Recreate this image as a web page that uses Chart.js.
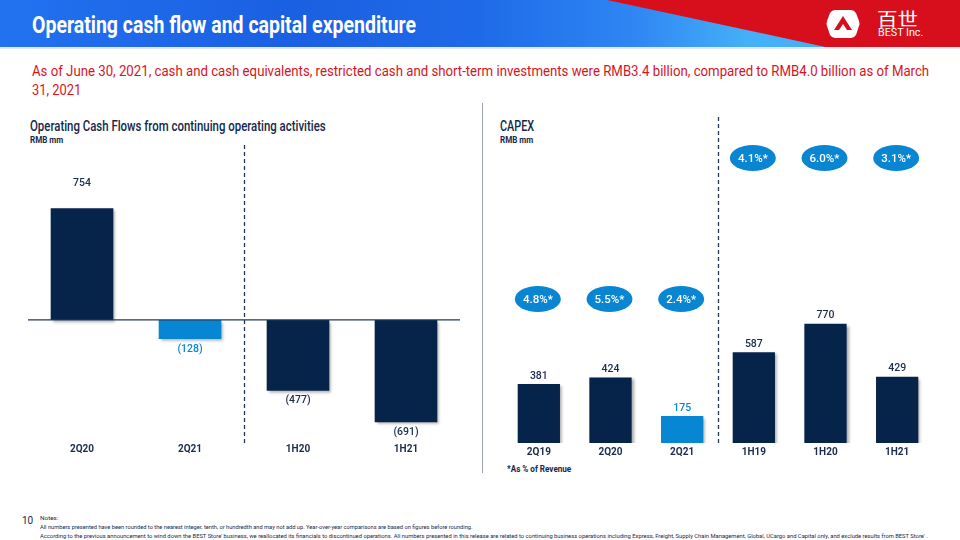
<!DOCTYPE html>
<html>
<head>
<meta charset="utf-8">
<script src="https://cdn.jsdelivr.net/npm/chart.js@4.4.0/dist/chart.umd.min.js"></script>
<style>
  body { margin: 0; width: 960px; height: 540px; position: relative; overflow: hidden; background: #fff;
         font-family: Roboto, "DejaVu Sans", sans-serif; color: #1b2c4c; }
  .abs { position: absolute; white-space: nowrap; transform-origin: 0 0; }
  #header { left: 0; top: 0; width: 960px; height: 47px;
            background: linear-gradient(90deg, #2272f0 0%, #1a60e2 30%, #1f6ae8 50%, #2f86f3 66%, #45b0f7 78%); }
  #headerLine { left: 0; top: 47px; width: 960px; height: 2px; background: #dfe9f7; }
  #red { left: 0; top: 0; width: 960px; height: 48px; background: #d70f1c;
         clip-path: polygon(607px 0, 960px 0, 960px 48px, 830px 48px); }
  #title { left: 32px; top: 11px; font-size: 24px; font-weight: bold; color: #fff; }
  #logoCn { left: 877px; top: 5px; font-size: 18px; color: #fff; font-family: "Noto Sans CJK SC", sans-serif; }
  #logoEn { left: 878px; top: 27px; font-size: 10px; color: #fff; }
  .sub { left: 32px; font-size: 14.5px; color: #d7141f; }
  .chartTitle { font-size: 14px; font-weight: 500; color: #15284a; }
  .unit { font-size: 9px; font-weight: bold; color: #15284a; }
  #sep { left: 482px; top: 103px; width: 1px; height: 370px; background: #9aa3ae; }
  #note { left: 507px; top: 463px; font-size: 9.5px; font-weight: bold; color: #15284a; }
  #page { left: 22px; top: 515px; font-size: 10px; color: #15284a; }
  .tiny { font-size: 6px; color: #15284a; left: 40px; }
  canvas { position: absolute; }
</style>
</head>
<body>
<div id="header" class="abs"></div>
<div id="red" class="abs"></div>
<div id="headerLine" class="abs"></div>
<div id="title" class="abs" data-w="384">Operating cash flow and capital expenditure</div>
<svg class="abs" style="left:826px;top:9px" width="34" height="30" viewBox="0 0 34 30">
  <path d="M9 1 L25 1 Q28 1 30 4 L33 12 Q34 15 33 17 L30 26 Q28 29 25 29 L9 29 Q6 29 4 26 L1 17 Q0 15 1 12 L4 4 Q6 1 9 1 Z" fill="#fff"/>
  <path d="M17 7 L26 21 L21 21 L17 15 L13 21 L8 21 Z" fill="#d70f1c"/>
</svg>
<div id="logoCn" class="abs" data-w="41">百世</div>
<div id="logoEn" class="abs" data-w="45">BEST Inc.</div>

<div class="abs sub" style="top:63px" data-w="897">As of June 30, 2021, cash and cash equivalents, restricted cash and short-term investments were RMB3.4 billion, compared to RMB4.0 billion as of March</div>
<div class="abs sub" style="top:82px" data-w="49">31, 2021</div>

<div class="abs chartTitle" style="left:30px;top:118px" data-w="296">Operating Cash Flows from continuing operating activities</div>
<div class="abs unit" style="left:30px;top:135px" data-w="33">RMB mm</div>
<div class="abs chartTitle" style="left:500px;top:118px" data-w="34">CAPEX</div>
<div class="abs unit" style="left:500px;top:135px" data-w="33">RMB mm</div>
<div id="sep" class="abs"></div>
<div id="note" class="abs" data-w="64">*As % of Revenue</div>

<canvas id="cashChart" width="432" height="310" style="left:28px;top:145px"></canvas>
<canvas id="capexChart" width="430" height="343" style="left:503px;top:115px"></canvas>

<div id="page" class="abs">10</div>
<div class="abs tiny" style="top:514px" data-w="18">Notes:</div>
<div class="abs tiny" style="top:523px" data-w="433">All numbers presented have been rounded to the nearest integer, tenth, or hundredth and may not add up. Year-over-year comparisons are based on figures before rounding.</div>
<div class="abs tiny" style="top:532px" data-w="888">According to the previous announcement to wind down the BEST Store' business, we reallocated its financials to discontinued operations. All numbers presented in this release are related to continuing business operations including Express, Freight, Supply Chain Management, Global, UCargo and Capital only, and exclude results from BEST Store' .</div>

<script>
// data
const cashLabels = ['2Q20', '2Q21', '1H20', '1H21'];
const cashValues = [754, -128, -477, -691];
const capexLabels = ['2Q19', '2Q20', '2Q21', '1H19', '1H20', '1H21'];
const capexValues = [381, 424, 175, 587, 770, 429];
const capexPctOfRevenue = [4.8, 5.5, 2.4, 4.1, 6.0, 3.1];
const highlightLabel = '2Q21';

const NAVY = '#06234a';
const LIGHT = '#0786d3';
const TEXT = '#1b2c4c';
const FONT = 'Roboto, "DejaVu Sans", sans-serif';

// squeeze the slide text to the widths of the original condensed font
document.querySelectorAll('[data-w]').forEach(el => {
    const w = parseFloat(el.dataset.w);
    el.style.transform = 'scaleX(' + (w / el.offsetWidth) + ')';
});

function barColors(labels) {
    return labels.map(l => l === highlightLabel ? LIGHT : NAVY);
}

// shadow under bars, zero line, divider, value labels, percentage bubbles
const slidePlugin = {
    id: 'slide',
    beforeDatasetDraw(chart) {
        const c = chart.ctx;
        c.save();
        c.shadowColor = 'rgba(0,0,0,0.35)';
        c.shadowBlur = 3;
        c.shadowOffsetX = 2;
        c.shadowOffsetY = 2;
    },
    afterDatasetDraw(chart) {
        chart.ctx.restore();
    },
    afterDatasetsDraw(chart, args, opts) {
        const { ctx, chartArea, scales: { x, y } } = chart;
        const labels = chart.data.labels;
        const values = chart.data.datasets[0].data;

        if (opts.zeroLine) {
            const y0 = y.getPixelForValue(0);
            ctx.save();
            ctx.strokeStyle = '#1f3a5f';
            ctx.lineWidth = 1.2;
            ctx.beginPath();
            ctx.moveTo(chartArea.left, y0);
            ctx.lineTo(chartArea.right, y0);
            ctx.stroke();
            ctx.restore();
        }

        // dashed divider between quarters and half years
        const xs = Math.round((x.getPixelForValue(opts.split - 1) + x.getPixelForValue(opts.split)) / 2) + 0.5;
        ctx.save();
        ctx.strokeStyle = '#26385a';
        ctx.lineWidth = 1.3;
        ctx.setLineDash([4, 3]);
        ctx.beginPath();
        ctx.moveTo(xs, chartArea.top + opts.dashTop);
        ctx.lineTo(xs, chartArea.bottom + 3);
        ctx.stroke();
        ctx.restore();

        // value labels
        ctx.save();
        ctx.font = '500 10.5px ' + FONT;
        ctx.textAlign = 'center';
        ctx.textBaseline = 'middle';
        chart.getDatasetMeta(0).data.forEach((bar, i) => {
            const v = values[i];
            const txt = v < 0 ? '(' + Math.abs(v) + ')' : String(v);
            ctx.fillStyle = labels[i] === highlightLabel ? LIGHT : TEXT;
            const ty = v < 0 ? bar.y + opts.negOffset : bar.y - opts.posOffset;
            ctx.fillText(txt, bar.x, ty);
        });
        ctx.restore();

        // percentage of revenue bubbles
        if (opts.pct) {
            ctx.save();
            ctx.font = '500 11.5px ' + FONT;
            ctx.textAlign = 'center';
            ctx.textBaseline = 'middle';
            opts.pct.forEach((p, i) => {
                const cx = x.getPixelForValue(i) - 1;
                const cy = chartArea.top + (i < opts.split ? opts.pctLow : opts.pctHigh);
                ctx.fillStyle = '#0a85d1';
                ctx.beginPath();
                ctx.ellipse(cx, cy, 23, 13, 0, 0, Math.PI * 2);
                ctx.fill();
                ctx.fillStyle = '#fff';
                ctx.fillText(p.toFixed(1) + '%*', cx, cy + 1);
            });
            ctx.restore();
        }
    }
};

function makeChart(id, labels, values, yMin, yMax, pluginOpts) {
    const ctx = document.getElementById(id).getContext('2d');
    return new Chart(ctx, {
        type: 'bar',
        data: {
            labels: labels,
            datasets: [{
                data: values,
                backgroundColor: barColors(labels),
                borderWidth: 0,
                barPercentage: pluginOpts.barPct,
                categoryPercentage: 1
            }]
        },
        options: {
            responsive: false,
            animation: false,
            layout: { padding: 0 },
            plugins: {
                legend: { display: false },
                tooltip: { enabled: false },
                slide: pluginOpts
            },
            scales: {
                y: { display: false, min: yMin, max: yMax },
                x: {
                    grid: { display: false, drawTicks: false },
                    border: { display: false },
                    ticks: { color: TEXT, font: { family: FONT, size: 10, weight: 'bold' }, padding: 3 },
                    afterFit: s => { s.height = 15; }
                }
            }
        },
        plugins: [slidePlugin]
    });
}

makeChart('cashChart', cashLabels, cashValues, -810, 1180,
    { zeroLine: true, split: 2, dashTop: 0, posOffset: 25, negOffset: 10, barPct: 0.58 });
makeChart('capexChart', capexLabels, capexValues, 0, 2120,
    { zeroLine: false, split: 3, dashTop: 2, posOffset: 8, negOffset: 10, barPct: 0.59,
      pct: capexPctOfRevenue, pctLow: 184, pctHigh: 43 });
</script>
</body>
</html>
